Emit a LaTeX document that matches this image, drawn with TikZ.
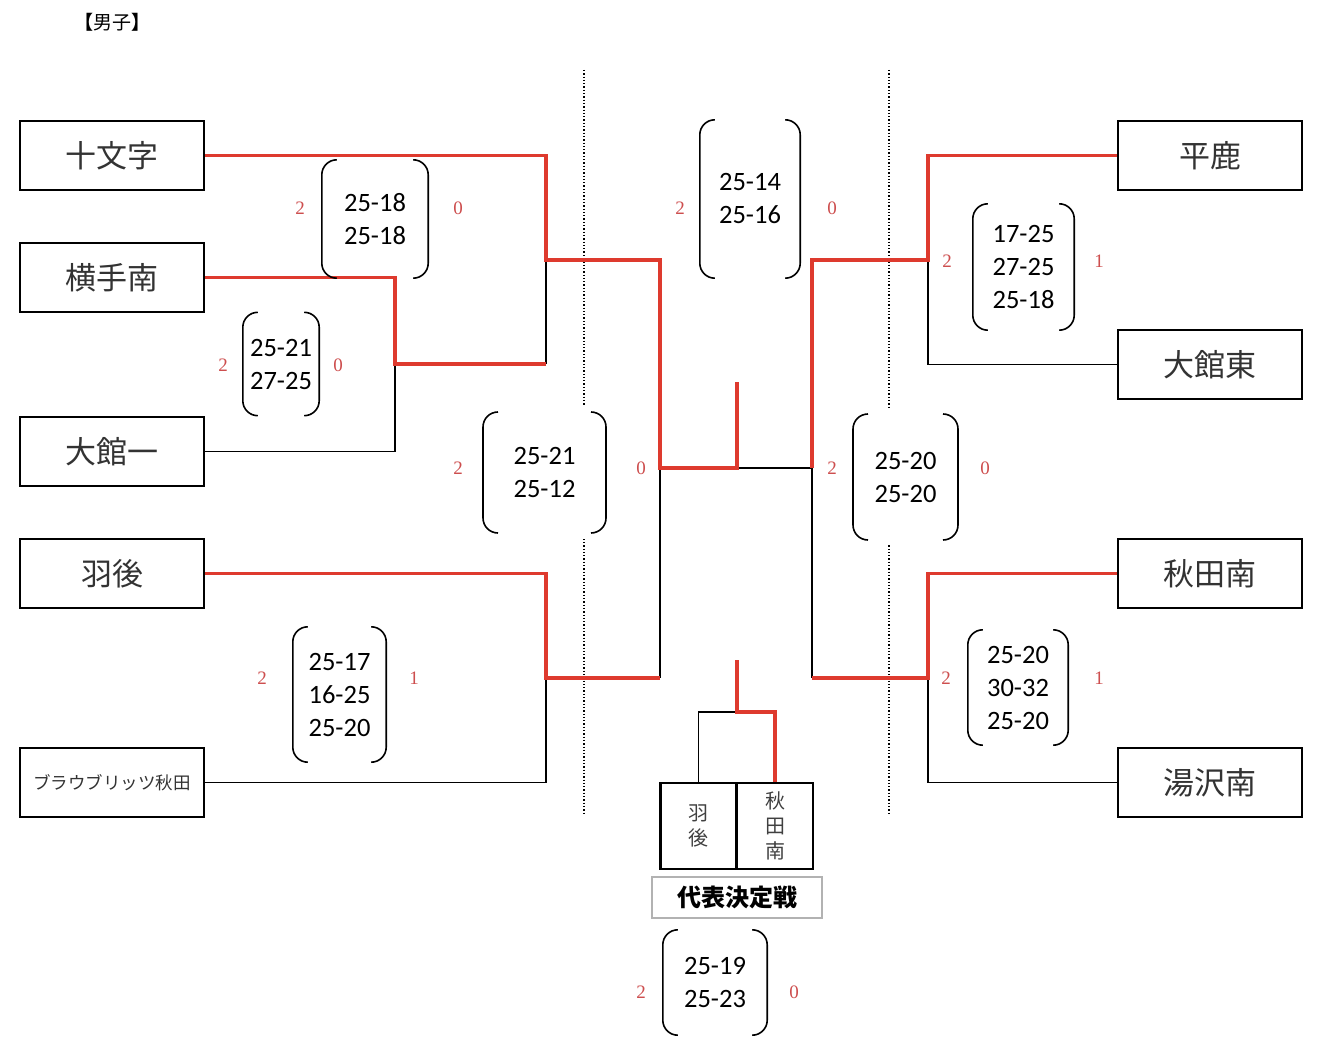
\documentclass[tikz,border=0pt]{standalone}
\usepackage{fontspec}
\setmainfont{Liberation Serif}
\newfontfamily\jp{Noto Sans CJK JP}
\newfontfamily\scf{Carlito}
\definecolor{winred}{RGB}{222,58,46}
\definecolor{numred}{RGB}{205,78,78}
\begin{document}
\begin{tikzpicture}[x=1pt,y=-1pt,
  team/.style={draw,line width=2.4pt,minimum width=184pt,minimum height=69pt,inner sep=0pt,font=\jp\fontsize{31}{33}\selectfont,text=black!80},
  win/.style={draw=winred,line width=3.6pt,line join=miter},
  lose/.style={draw=black,line width=1.8pt},
  score/.style={inner sep=0pt,align=center,font=\scf\fontsize{26.5}{33}\selectfont},
  brk/.style={draw,line width=1.6pt,rounded corners=15pt},
  num/.style={text=numred,font=\fontsize{19}{20}\selectfont},
  sep/.style={draw,dotted,line width=1.3pt},
  small/.style={draw,line width=2.2pt,minimum width=76pt,minimum height=86pt,inner sep=0pt,align=center,font=\jp\fontsize{20}{25}\selectfont,text=black!75}
]
\useasboundingbox (0,0) rectangle (1322,1048);
\node[font=\jp\fontsize{19}{20}\selectfont] (title) at (112,22) {\textbf{【}男子\textbf{】}};

% teams left
\node[team] (jumonji) at (112,155.5) {十文字};
\node[team] (yokote) at (112,277.5) {横手南};
\node[team] (odate1) at (112,451.5) {大館一};
\node[team] (ugo) at (112,573.5) {羽後};
\node[team,font=\jp\fontsize{17.5}{19}\selectfont] (blau) at (112,782.5) {ブラウブリッツ秋田};
% teams right
\node[team] (hiraka) at (1210,155.5) {平鹿};
\node[team] (odatehigashi) at (1210,364.5) {大館東};
\node[team] (akitaminami) at (1210,573.5) {秋田南};
\node[team] (yuzawa) at (1210,782.5) {湯沢南};

% separators
\draw[sep] (584,70) coordinate (d1a) -- (584,815) coordinate (d1b);
\draw[sep] (889,70) coordinate (d2a) -- (889,815) coordinate (d2b);

% junction coordinates
\coordinate (qL1) at (546,260);
\coordinate (qL1b) at (546,364);
\coordinate (rL1) at (395,364);
\coordinate (qL2) at (546,678);
\coordinate (sL1) at (660,260);
\coordinate (sL2) at (660,678);
\coordinate (fL) at (660,468);
\coordinate (fC) at (737,468);
\coordinate (fTop) at (737,382);
\coordinate (fR) at (812,468);
\coordinate (sR1) at (812,260);
\coordinate (sR2) at (812,678);
\coordinate (qR1) at (928,260);
\coordinate (qR2) at (928,678);

% losing (black) lines
\draw[lose] (odate1.east) -| (rL1);
\draw[lose] (qL1) -- (qL1b);
\draw[lose] (blau.east) -| (qL2);
\draw[lose] (fL) -- (sL2);
\draw[lose] (fC) -- (fR);
\draw[lose] (fR) -- (sR2);
\draw[lose] (odatehigashi.west) -| (qR1);
\draw[lose] (yuzawa.west) -| (qR2);

% winning (red) lines
\draw[win] (jumonji.east) -| (qL1) -- (sL1) -- (fL) -- (fC) -- (fTop);
\draw[win] (yokote.east) -| (rL1) -- (qL1b);
\draw[win] (ugo.east) -| (qL2) -- (sL2);
\draw[win] (hiraka.west) -| (qR1) -- (sR1) -- (fR);
\draw[win] (akitaminami.west) -| (qR2) -- (sR2);

% playoff
\node[small] (pugo) at (698.5,826) {羽\\後};
\node[small] (pakita) at (775,826) {秋\\田\\南};
\coordinate (pTop) at (737,660);
\coordinate (pJ) at (737,712);
\draw[lose] (pJ) -| (pugo.north);
\draw[win] (pTop) -- (pJ) -| (pakita.north);
\node[draw=black!30,line width=1.4pt,minimum width=170pt,minimum height=41pt,inner sep=0pt,font=\jp\bfseries\fontsize{24}{25}\selectfont] (playoff) at (737,897.5) {代表決定戦};

% score boxes
\newcommand\brackets[1]{%
  \draw[brk] ([xshift=15pt]#1.north west) -- (#1.north west) -- (#1.south west) -- ([xshift=15pt]#1.south west);
  \draw[brk] ([xshift=-15pt]#1.north east) -- (#1.north east) -- (#1.south east) -- ([xshift=-15pt]#1.south east);}

\node[score,minimum width=106pt,minimum height=118pt] (s1) at (375,219) {25-18\\25-18};
\brackets{s1}
\node[num] (s1a) at (300,208) {2}; \node[num] (s1b) at (458,208) {0};

\node[score,minimum width=76pt,minimum height=103pt] (s2) at (281,364) {25-21\\27-25};
\brackets{s2}
\node[num] (s2a) at (223,365) {2}; \node[num] (s2b) at (338,365) {0};

\node[score,fill=white,minimum width=123pt,minimum height=133pt] (s3) at (544.5,472.5) {25-21\\25-12};
\draw[brk] (498,412) -- (483,412) -- (483,533) -- (498,533);
\draw[brk] (591,412) -- (606,412) -- (606,533) -- (591,533);
\node[num] (s3a) at (458,468) {2}; \node[num] (s3b) at (641,468) {0};

\node[score,minimum width=93pt,minimum height=135pt] (s4) at (339.5,694.5) {25-17\\16-25\\25-20};
\brackets{s4}
\node[num] (s4a) at (262,678) {2}; \node[num] (s4b) at (414,678) {1};

\node[score,minimum width=100pt,minimum height=158pt] (s5) at (750,199) {25-14\\25-16};
\brackets{s5}
\node[num] (s5a) at (680,208) {2}; \node[num] (s5b) at (832,208) {0};

\node[score,minimum width=101pt,minimum height=126pt] (s6) at (1023.5,267) {17-25\\27-25\\25-18};
\brackets{s6}
\node[num] (s6a) at (947,261) {2}; \node[num] (s6b) at (1099,261) {1};

\node[score,fill=white,minimum width=105pt,minimum height=136pt] (s7) at (905.5,477) {25-20\\25-20};
\draw[brk] (868,414) -- (853,414) -- (853,540) -- (868,540);
\draw[brk] (943,414) -- (958,414) -- (958,540) -- (943,540);
\node[num] (s7a) at (832,468) {2}; \node[num] (s7b) at (985,468) {0};

\node[score,minimum width=100pt,minimum height=115pt] (s8) at (1018,687.5) {25-20\\30-32\\25-20};
\brackets{s8}
\node[num] (s8a) at (946,678) {2}; \node[num] (s8b) at (1099,678) {1};

\node[score,minimum width=104pt,minimum height=105pt] (s9) at (715,982.5) {25-19\\25-23};
\brackets{s9}
\node[num] (s9a) at (641,992) {2}; \node[num] (s9b) at (794,992) {0};
\end{tikzpicture}
\end{document}
